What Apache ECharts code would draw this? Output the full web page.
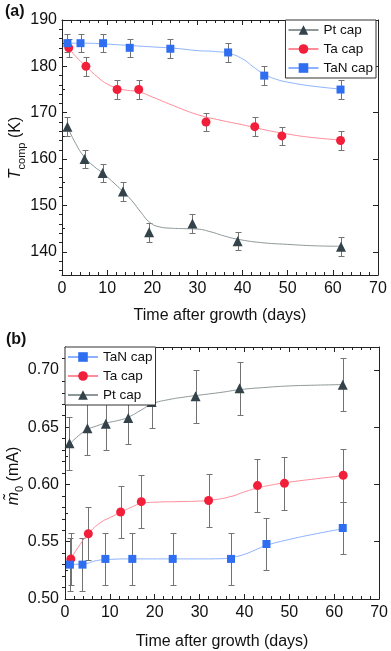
<!DOCTYPE html>
<html><head><meta charset="utf-8">
<script src="https://cdn.jsdelivr.net/npm/echarts@6/dist/echarts.min.js"></script>
<style>html,body{margin:0;padding:0;background:#fff}#c{width:391px;height:651px}</style>
</head><body><div id="c"></div>
<script>
// ---------- Panel (a): T_comp (K) ----------
const ptDaysA  = [1.2, 5, 9, 13.5, 19.3, 28.9, 38.9, 61.8];
const ptTcomp  = [167, 160, 157, 153, 144.2, 146.1, 142.3, 141.1];
const ptTcompErr = [2, 2, 2, 2, 2, 2, 2, 2];
const taDaysA  = [1.5, 5.3, 12.2, 17, 31.9, 42.7, 48.7, 61.7];
const taTcomp  = [184, 180, 175, 175, 168, 167, 165, 164];
const taTcompErr = [2, 2, 2, 2, 2, 2, 2, 2];
const tanDaysA = [1.2, 4.1, 9.1, 15, 24, 36.8, 44.8, 61.7];
const tanTcomp = [185, 185, 185, 184, 183.8, 183, 178, 175];
const tanTcompErr = [2, 2, 2, 2, 2, 2, 2, 2];
// fitted curves
const ptFitA  = [[1.2,167],[3,163.4],[5,160.4],[7,158.5],[9,157],[11,155.3],[13.5,153],[15.5,151],[17.5,148.5],[19.5,146.3],[21.5,145.4],[24,145.1],[27,145],[30,144.9],[33,144.3],[36,143.4],[39,142.7],[44,142],[50,141.6],[56,141.3],[61.8,141.2]];
const taFitA  = [[1.5,184],[3,182.2],[5.3,180],[8,177.6],[10,176.2],[12.2,175.3],[14,174.9],[17,174.5],[20,173.4],[25,171.4],[30,169.6],[35,168.4],[40,167.4],[45,166.3],[50,165.4],[55,164.7],[61.7,164.1]];
const tanFitA = [[1.2,185],[5,185],[10,184.8],[15,184.5],[20,184.2],[25,183.9],[30,183.4],[34,183.2],[37,182.8],[40,181.6],[42.5,179.8],[44.8,178.3],[47.5,177.2],[50,176.6],[55,175.8],[61.7,175.1]];

// ---------- Panel (b): m0 (mA) ----------
const tanDaysB = [1.1, 3.9, 9, 15, 24, 37, 44.9, 61.9];
const tanM0    = [0.530, 0.530, 0.535, 0.535, 0.535, 0.535, 0.548, 0.562];
const tanM0Err = [0.023, 0.023, 0.023, 0.023, 0.023, 0.023, 0.023, 0.023];
const taDaysB  = [1.3, 5.2, 12.4, 17, 32, 42.9, 48.9, 62];
const taM0     = [0.535, 0.557, 0.576, 0.585, 0.586, 0.599, 0.601, 0.608];
const taM0Err  = [0.023, 0.023, 0.023, 0.023, 0.023, 0.023, 0.023, 0.023];
const ptDaysB  = [1, 5, 9.1, 14.1, 19.3, 29.1, 38.9, 61.9];
const ptM0     = [0.636, 0.649, 0.653, 0.658, 0.672, 0.677, 0.684, 0.687];
const ptM0Err  = [0.023, 0.023, 0.023, 0.023, 0.023, 0.023, 0.023, 0.023];
const ptFitB  = [[1,0.635],[3,0.6425],[5,0.648],[7,0.651],[9,0.6535],[12,0.656],[14,0.6585],[17,0.665],[19.5,0.6705],[23,0.674],[27,0.6765],[30,0.678],[35,0.6805],[39,0.6828],[45,0.6848],[50,0.686],[55,0.6866],[61.9,0.6872]];
const taFitB  = [[1.3,0.535],[3,0.5455],[5.2,0.557],[8,0.567],[10,0.571],[12.4,0.5757],[15,0.5805],[17,0.5835],[20,0.5845],[25,0.585],[30,0.5855],[33,0.5865],[37,0.5895],[40,0.5935],[43,0.597],[46,0.5995],[49,0.6015],[55,0.6045],[62,0.6076]];
const tanFitB = [[1,0.5302],[4,0.5305],[7,0.5335],[9.5,0.5345],[15,0.535],[24,0.535],[30,0.535],[35,0.5352],[37.5,0.5365],[40,0.539],[42.5,0.543],[45,0.547],[50,0.552],[55,0.5562],[62,0.5614]];

// ---------- tick values ----------
const xTicks = [0, 10, 20, 30, 40, 50, 60, 70];
const tTicks = [140, 150, 160, 170, 180, 190];
const tMinorLeft = [145, 155, 165, 175, 185];
const tMinorRight = [136,138,142,144,146,148,152,154,156,158,162,164,166,168,172,174,176,178,182,184,186,188];
const mTicks = [0.50, 0.55, 0.60, 0.65, 0.70];
const mMinorLeft = [0.525, 0.575, 0.625, 0.675];
const mMinorRight = [0.51,0.52,0.53,0.54,0.56,0.57,0.58,0.59,0.61,0.62,0.63,0.64,0.66,0.67,0.68,0.69,0.71];

const FONT = 'Liberation Sans, Arial, Helvetica, sans-serif';
const AX = '#222';
const TXT = '#111';
const PT_C = '#34434A', PT_L = '#8E9898';
const TA_C = '#F21F3B', TA_L = '#FF8C9A';
const TAN_C = '#2F6EF0', TAN_L = '#8DB2FF';
const ERR_C = '#737373';

const chart = echarts.init(document.getElementById('c'), null, {renderer: 'canvas'});

function pairs(d, v) { return d.map((x, i) => [x, v[i]]); }

function errSeries(days, vals, errs, xi, yi) {
  return {
    type: 'custom', xAxisIndex: xi, yAxisIndex: yi, z: 2, silent: true,
    data: days.map((d, i) => [d, vals[i] - errs[i], vals[i] + errs[i]]),
    encode: {x: 0, y: [1, 2]},
    renderItem: function (params, api) {
      const x = api.value(0);
      const lo = api.coord([x, api.value(1)]);
      const hi = api.coord([x, api.value(2)]);
      const px = Math.round(lo[0]) + 0.5;
      const yl = Math.round(lo[1]) + 0.5, yh = Math.round(hi[1]) + 0.5;
      const w = 3;
      const style = {stroke: ERR_C, lineWidth: 1};
      return {type: 'group', children: [
        {type: 'line', shape: {x1: px, y1: yl, x2: px, y2: yh}, style: style},
        {type: 'line', shape: {x1: px - w, y1: yl, x2: px + w, y2: yl}, style: style},
        {type: 'line', shape: {x1: px - w, y1: yh, x2: px + w, y2: yh}, style: style}
      ]};
    }
  };
}
function fitSeries(name, data, sym, lineC, symC, xi, yi) {
  return {type: 'line', name: name, xAxisIndex: xi, yAxisIndex: yi, data: data, smooth: true,
    showSymbol: false, symbol: sym, symbolSize: 9, silent: true, z: 3,
    lineStyle: {color: lineC, width: 1}, itemStyle: {color: symC}};
}
function ptsSeries(name, data, sym, size, c, xi, yi) {
  return {type: 'scatter', name: name, xAxisIndex: xi, yAxisIndex: yi, data: data,
    symbol: sym, symbolSize: size, silent: true, z: 4, itemStyle: {color: c, opacity: 1}};
}

function xAxesFor(gi, gap) {
  const base = {gridIndex: gi, type: 'value', min: 0, max: 70, interval: 10,
    axisLine: {show: true, onZero: false, lineStyle: {color: AX, width: 1}},
    axisTick: {show: true, inside: true, length: 5, lineStyle: {color: AX}},
    minorTick: {show: true, splitNumber: 5, length: 3, lineStyle: {color: AX}},
    splitLine: {show: false}, minorSplitLine: {show: false}};
  return [
    Object.assign({}, base, {position: 'bottom',
      axisLabel: {show: true, fontSize: 16, color: TXT, fontFamily: FONT, margin: 6},
      name: 'Time after growth (days)', nameLocation: 'middle', nameGap: gap,
      nameTextStyle: {fontSize: 16, color: TXT, fontFamily: FONT}}),
    Object.assign({}, base, {position: 'top', axisLabel: {show: false}})
  ];
}
function yAxesFor(gi, min, max, major, minorL, minorR, fmt, margin) {
  const base = {gridIndex: gi, type: 'value', min: min, max: max,
    splitLine: {show: false}, minorSplitLine: {show: false}, minorTick: {show: false}};
  return [
    Object.assign({}, base, {position: 'left',
      axisLine: {show: true, onZero: false, lineStyle: {color: AX, width: 1}},
      axisTick: {show: true, inside: true, length: 5, customValues: major, lineStyle: {color: AX}},
      axisLabel: {show: true, customValues: major, formatter: fmt, fontSize: 16, color: TXT, fontFamily: FONT, margin: margin}}),
    Object.assign({}, base, {position: 'left',
      axisLine: {show: false},
      axisTick: {show: true, inside: true, length: 3, customValues: minorL, lineStyle: {color: AX}},
      axisLabel: {show: false}}),
    Object.assign({}, base, {position: 'right',
      axisLine: {show: true, onZero: false, lineStyle: {color: AX, width: 1}},
      axisTick: {show: true, inside: true, length: 5, customValues: major, lineStyle: {color: AX}},
      axisLabel: {show: false}}),
    Object.assign({}, base, {position: 'right',
      axisLine: {show: false},
      axisTick: {show: true, inside: true, length: 3, customValues: minorR, lineStyle: {color: AX}},
      axisLabel: {show: false}})
  ];
}

const legendBase = {orient: 'vertical', itemWidth: 30, itemHeight: 12, itemGap: 5,
  padding: [3, 3, 3, 2], borderColor: '#333', borderWidth: 1, borderRadius: 0,
  backgroundColor: '#fff', selectedMode: false, z: 10,
  textStyle: {fontSize: 13.5, color: TXT, fontFamily: FONT}};

const option = {
  animation: false,
  backgroundColor: '#fff',
  grid: [
    {left: 62, top: 20, width: 316, height: 255},
    {left: 65, top: 347, width: 315, height: 253}
  ],
  xAxis: [].concat(xAxesFor(0, 33), xAxesFor(1, 35)),
  yAxis: [].concat(
    yAxesFor(0, 135, 190, tTicks, tMinorLeft, tMinorRight, v => String(Math.round(v)), 5),
    yAxesFor(1, 0.50, 0.72, mTicks, mMinorLeft, mMinorRight, v => v.toFixed(2), 6)
  ),
  legend: [
    Object.assign({}, legendBase, {data: ['Pt cap', 'Ta cap', 'TaN cap'], right: 15, top: 20}),
    Object.assign({}, legendBase, {data: ['TaN cap', 'Ta cap', 'Pt cap'], left: 65, top: 347})
  ],
  series: [
    // panel a
    errSeries(ptDaysA, ptTcomp, ptTcompErr, 0, 0),
    errSeries(taDaysA, taTcomp, taTcompErr, 0, 0),
    errSeries(tanDaysA, tanTcomp, tanTcompErr, 0, 0),
    fitSeries('Pt cap', ptFitA, 'triangle', PT_L, PT_C, 0, 0),
    fitSeries('Ta cap', taFitA, 'circle', TA_L, TA_C, 0, 0),
    fitSeries('TaN cap', tanFitA, 'rect', TAN_L, TAN_C, 0, 0),
    ptsSeries('Pt pts a', pairs(ptDaysA, ptTcomp), 'triangle', 10, PT_C, 0, 0),
    ptsSeries('Ta pts a', pairs(taDaysA, taTcomp), 'circle', 9, TA_C, 0, 0),
    ptsSeries('TaN pts a', pairs(tanDaysA, tanTcomp), 'rect', 8, TAN_C, 0, 0),
    // panel b
    errSeries(ptDaysB, ptM0, ptM0Err, 2, 4),
    errSeries(taDaysB, taM0, taM0Err, 2, 4),
    errSeries(tanDaysB, tanM0, tanM0Err, 2, 4),
    fitSeries('Pt cap', ptFitB, 'triangle', PT_L, PT_C, 2, 4),
    fitSeries('Ta cap', taFitB, 'circle', TA_L, TA_C, 2, 4),
    fitSeries('TaN cap', tanFitB, 'rect', TAN_L, TAN_C, 2, 4),
    ptsSeries('Pt pts b', pairs(ptDaysB, ptM0), 'triangle', 10, PT_C, 2, 4),
    ptsSeries('Ta pts b', pairs(taDaysB, taM0), 'circle', 9, TA_C, 2, 4),
    ptsSeries('TaN pts b', pairs(tanDaysB, tanM0), 'rect', 8, TAN_C, 2, 4)
  ],
  graphic: [
    {type: 'text', left: 5, top: 4, style: {text: '(a)', font: 'bold 16px ' + FONT, fill: TXT}},
    {type: 'text', left: 6, top: 332, style: {text: '(b)', font: 'bold 16px ' + FONT, fill: TXT}},
    {type: 'text', x: 16, y: 148, rotation: Math.PI / 2,
      style: {text: '{i|T}{s|comp}{n| (K)}', align: 'center', verticalAlign: 'middle',
        rich: {
          i: {fontSize: 16, fontStyle: 'italic', fontFamily: FONT, fill: TXT, lineHeight: 22},
          s: {fontSize: 11, fontFamily: FONT, fill: TXT, lineHeight: 12, verticalAlign: 'bottom'},
          n: {fontSize: 16, fontFamily: FONT, fill: TXT, lineHeight: 22}
        }}},
    {type: 'text', x: 14, y: 476, rotation: Math.PI / 2,
      style: {text: '{i|m\u0303}{s|0}{n| (mA)}', align: 'center', verticalAlign: 'middle',
        rich: {
          i: {fontSize: 16, fontStyle: 'italic', fontFamily: FONT, fill: TXT, lineHeight: 22},
          s: {fontSize: 11, fontFamily: FONT, fill: TXT, lineHeight: 12, verticalAlign: 'bottom'},
          n: {fontSize: 16, fontFamily: FONT, fill: TXT, lineHeight: 22}
        }}}
  ]
};
chart.setOption(option);
</script>
</body></html>
